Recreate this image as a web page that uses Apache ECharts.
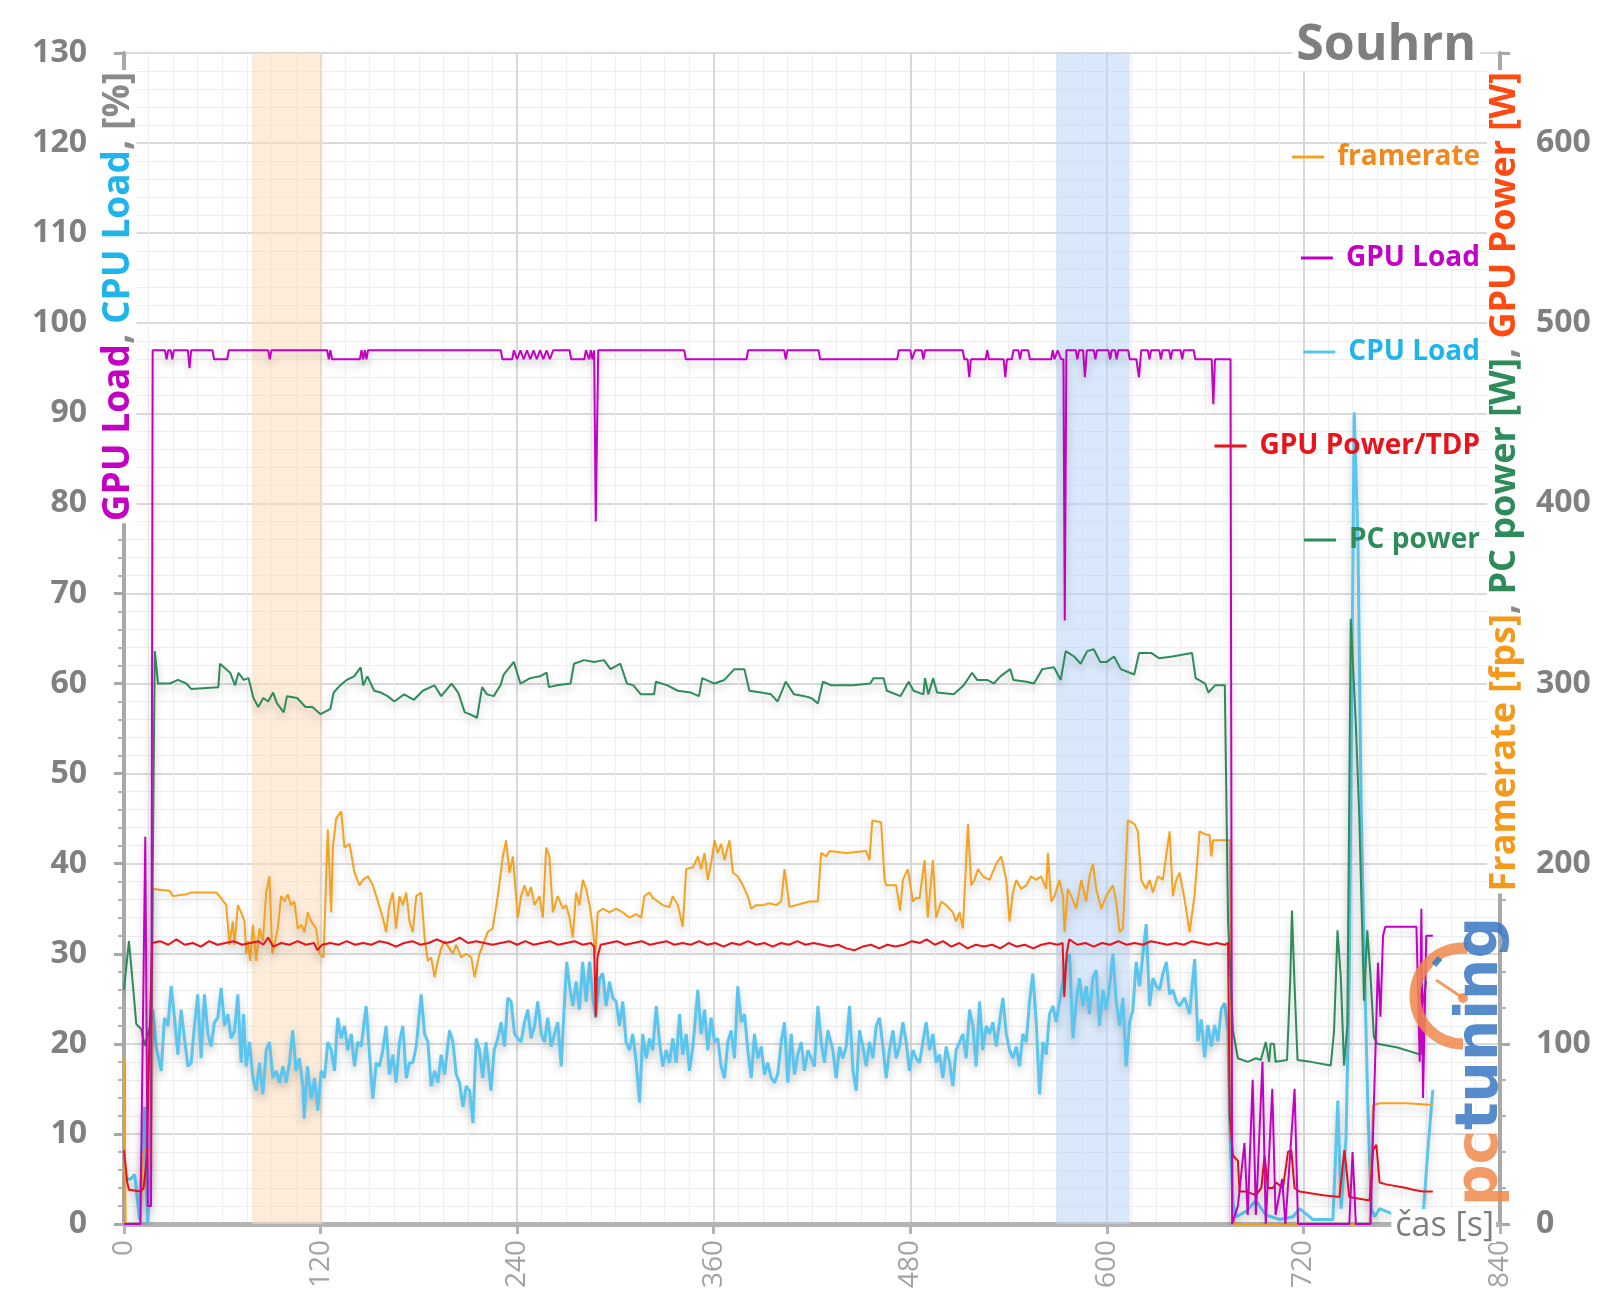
<!DOCTYPE html>
<html>
<head>
<meta charset="utf-8">
<script src="https://cdn.jsdelivr.net/npm/echarts@6/dist/echarts.min.js"></script>
<style>
html,body{margin:0;padding:0;background:#fff;}
#c{width:1600px;height:1313px;}
</style>
</head>
<body>
<div id="c"></div>
<script>
// ---------- DATA (time [s], value) ----------
const xTickStep = 120;
const bandOrange = [78, 121];
const bandBlue = [569, 614];

// CPU Load [%]
const cpuLoad = [[0,5],[4,5],[6.5,5.5],[9.5,0.5],[11,8],[12.5,13],[14.5,0],[15.6,4],[17.6,23.8],[19.6,19.7],[22.7,17],[24.7,22.9],[26.8,22],[28.8,26.4],[30.8,22.9],[32.9,18.8],[34.9,23.8],[36.9,20.6],[39,17.5],[41,17.9],[43,22],[45,25.5],[47.1,18.4],[49.1,25.5],[51.2,21.1],[53.2,19.7],[55.2,22.4],[57.3,22.9],[59.3,26.2],[61.4,22],[63.4,23.3],[65.4,20.6],[67.5,21.5],[69.5,25.5],[71.5,17.9],[73,23.3],[74.6,17.5],[76.6,20.2],[78.7,16.2],[80.7,14.8],[82.7,17.9],[84.8,14.4],[86.8,19.3],[88.8,20.2],[90.9,16.2],[92.9,17],[94.9,15.7],[97,17.5],[99,15.7],[101,17.9],[103,21.5],[105,17],[107,18.4],[109.2,15.3],[110,11.7],[112,17.5],[114.3,13.9],[116.3,16.2],[118.3,12.6],[120.4,17],[122.4,16.2],[124.4,20.2],[126.5,19.3],[128.5,17],[130.5,22.9],[132.6,20.6],[134.6,22],[136.6,19.3],[138.7,21.1],[140.7,17.5],[142.7,20.2],[144.8,19.7],[147.8,24.2],[149.9,18.8],[151.9,13.9],[154,17.9],[156,17.5],[158,19.3],[160,22],[162,16.6],[164.1,18.8],[166.1,15.7],[168.2,20.2],[170.2,22],[172.3,16.2],[174.3,17.9],[176.3,17.9],[178.4,19.7],[181.4,25.5],[183.5,21.1],[185.5,20.2],[187.5,15.3],[189.6,17],[191.6,15.7],[193.6,18.8],[195.7,16.6],[198.7,21.5],[200.8,20.2],[202.8,16.6],[204.8,15.7],[206.9,13],[208.9,15.3],[211,14.8],[213,11.2],[215,20.6],[217,19.3],[219,16.2],[221,20.2],[224,14.8],[226,19.3],[228.2,20.6],[230.2,22.4],[232.3,19.7],[234.3,25.1],[236.3,24.7],[238.4,21.1],[240.4,20.6],[242.4,20.2],[244.5,22.4],[246.5,23.8],[248.5,20.6],[250.6,22],[252.6,24.7],[254.7,21.1],[256.7,20.2],[258.7,22.9],[260.8,19.7],[262.8,21.1],[264.8,22.4],[266.9,17.5],[268.9,24.7],[270.3,29.1],[272,26.4],[274,24.2],[276,26.9],[278,23.8],[280,29.1],[282.1,24.7],[284.2,29.1],[286.2,25.1],[288,22.9],[290.3,27.3],[292.3,27.8],[294.3,24.2],[296.4,26.9],[298.4,25.1],[300.4,24.7],[302.5,22],[304.5,24.7],[306.5,20.2],[308.6,19.3],[310.6,21.1],[312.7,17.9],[314.7,13.5],[316.7,21.1],[318.8,18.4],[320.8,20.6],[322.8,19.3],[324.9,24.2],[326.9,20.2],[328.9,17.5],[331,19.3],[333,17.9],[335,20.6],[337.1,17.9],[339.1,23.3],[341.1,18.8],[343.2,21.1],[345.2,17],[347.3,19.7],[350.3,26],[352.3,21.1],[354.4,23.8],[356.4,19.3],[358.4,22.9],[360.5,20.2],[362.5,20.6],[364.5,17.5],[366.6,16.2],[368.6,20.2],[370.6,21.5],[372.7,18.4],[374.7,26.4],[376.8,22.4],[378.8,23.3],[380.8,19.3],[382.9,16.2],[384.9,21.1],[386.9,18.4],[389,19.7],[391,16.6],[393,17.9],[395.1,16.2],[397.1,15.7],[399.1,16.6],[401.2,20.2],[403.2,22.4],[405.2,15.7],[407.3,21.1],[409.3,16.6],[411.3,18.8],[413.4,20.2],[415.4,17],[417.5,19.3],[419.5,18.4],[421.5,17.5],[423.6,24.2],[425.6,20.2],[427.6,17.9],[429.7,21.5],[432.7,19.3],[434.8,16.2],[436.8,19.7],[438.8,18.4],[440.9,19.7],[442.9,24.2],[445,17],[447,14.8],[449,21.5],[451.1,19.7],[453.1,17.5],[455.1,20.2],[457.2,18.4],[459.2,22],[461.2,22.9],[463.3,19.7],[465.3,16.2],[467.3,19.3],[469.4,21.5],[471.4,18.4],[473.4,19.7],[475.5,22.4],[477.5,20.2],[479.5,17],[481.6,19.3],[483.6,18.4],[485.7,17.9],[487.7,20.2],[489.7,22.4],[491.8,19.3],[493.8,21.1],[495.8,17.9],[497.9,18.8],[499.9,16.2],[501.9,19.7],[504,17.9],[506,15.3],[508,19.3],[510.1,20.2],[512.1,21.1],[514.1,18.4],[516.2,23.8],[518.2,22],[520.2,17.5],[522.3,24.7],[524.3,19.3],[526.4,22],[528.4,21.1],[530.4,22.4],[532.5,19.7],[534.5,22.4],[536.5,25.1],[538.6,21.1],[540.6,19.3],[542.6,18.4],[544.7,19.7],[546.7,17.5],[548.7,21.1],[550.8,20.2],[552.8,24.7],[554.8,27.8],[556.9,22.4],[558.9,14.4],[561,20.2],[563,18.8],[565,23.3],[567.1,24.2],[569.1,22.4],[571.1,24.7],[573.2,26.9],[575.2,29.1],[577.2,30],[579.3,20.6],[581.3,24.7],[583.3,27.3],[585.4,24.2],[587.4,26.4],[589.4,23.3],[591.5,27.3],[593.5,28.2],[595.5,22],[597.6,26],[599.6,23.8],[601.7,26.4],[603.7,30],[605.7,24.7],[607.8,22],[609.8,25.1],[611.8,17.5],[613.9,22.4],[615.9,23.8],[617.9,29.1],[620,26.4],[622,30],[624,33.3],[626.1,24.2],[628.1,27.3],[630.2,26.4],[632.2,26],[634.2,27.8],[636.3,29.1],[638.3,25.5],[640.3,26],[642.4,24.7],[644.4,24.2],[647.5,25.1],[650.5,23.3],[653.6,29.4],[655.6,20.3],[657.6,22.7],[659.7,18.5],[661.7,22.1],[663.8,19.7],[665.8,22.1],[667.8,20.3],[669.9,23.9],[671.9,24.5],[673.9,21.5],[675,10.7],[677,2.3],[679,0.8],[685,1.4],[691,2.6],[697,1],[705.5,0.5],[713.6,0.8],[717.7,1.7],[725.8,0.5],[738,0.5],[741,13.7],[743,1.7],[746,9.5],[748,27.5],[751,90.1],[753.3,75.7],[755.3,45.6],[757.4,27.5],[759.4,12.5],[761.4,1.7],[763.5,0.8],[766.5,1.7],[778.7,0.8],[793,0.8],[796,8.3],[799,14.9]];

// GPU Load [%]
const gpuLoad = [[0,0],[10,0],[13,43],[14.5,2],[16.5,2],[17.5,97],[25,97],[26,96],[27,97],[28.5,97],[29.5,96],[30.5,97],[39,97],[40,95],[41,97],[54,97],[55,96],[63,96],[64,97],[88,97],[89,96],[90,97],[124,97],[125,96],[126,97],[127,96],[144,96],[145,97],[146,96],[147,97],[148,96],[149,97],[230,97],[231,96],[237,96],[238,97],[240,96],[242,97],[244,96],[246,97],[248,96],[250,97],[252,96],[254,97],[256,96],[258,97],[260,96],[262,97],[272,97],[273,96],[281,96],[282,97],[284,96],[285,97],[286,96],[287,97],[288,78],[289.5,97],[342,97],[343,96],[380,96],[381,97],[403,97],[404,96],[405,97],[424,97],[425,96],[472,96],[473,97],[480,97],[481,96],[483,97],[487,97],[488,96],[489,97],[512,97],[513,96],[515,96],[516,94],[517,96],[526,96],[527,97],[528,96],[537,96],[538,94],[539,96],[542,96],[543,97],[546,97],[547,96],[548,97],[552,97],[553,96],[566,96],[567,97],[568,96],[570,97],[572,96],[573.5,96],[574.3,67],[575.3,97],[581,97],[582,96],[583,97],[585.5,97],[586.6,94],[587.8,97],[592,97],[593,96],[594,97],[601,97],[602,96],[603,97],[605,97],[606,96],[607,97],[613,97],[614,96],[618,96],[619.6,94],[621,97],[625,97],[626,96],[627,97],[632,97],[633,96],[634,97],[638,97],[639,96],[640,97],[645,97],[646,96],[647,97],[653,97],[654,96],[664,96],[665,91],[666,96],[675.5,96],[676.5,0],[680,2],[684,9],[686,1],[689,16],[691,1],[695,18],[697,0],[701,15],[703,1],[707,5],[709,0],[714.6,15],[716.7,0],[748,0],[750,8],[752,0],[761,0],[762.5,10],[765.5,29],[767,23],[768.6,32],[770,33],[789,33],[791,18],[792,35],[793,14],[795,32],[799,32]];

// GPU Power [W]
const gpuPower = [[0,41],[2,23],[3,19],[10,18],[12,20],[14,38],[15.5,101],[17.2,156],[22,157],[27,155],[32,158],[37,155],[42,156],[47,154],[52,157],[57,155],[62,156],[67,157],[72,155],[77,156],[82,157],[85,155],[88,159],[91,154],[96,156],[101,155],[106,157],[111,155],[116,156],[118,152],[121,155],[126,156],[131,155],[136,157],[141,155],[146,156],[151,155],[156,157],[161,156],[166,154],[171,156],[176,157],[181,155],[186,156],[191,158],[196,156],[201,157],[205,159],[210,156],[215,157],[220,156],[225,155],[230,156],[235,157],[240,155],[245,157],[250,155],[255,156],[260,157],[265,155],[270,156],[275,157],[280,155],[285,156],[287,154],[288,115],[289,148],[291,155],[296,156],[301,157],[306,155],[311,156],[316,157],[321,155],[326,156],[331,157],[336,155],[341,156],[346,155],[351,157],[356,155],[361,156],[366,154],[371,156],[376,155],[381,157],[386,155],[391,156],[396,154],[401,156],[406,155],[411,157],[416,155],[421,156],[426,155],[431,154],[436,155],[441,153],[446,152],[451,154],[456,155],[461,153],[466,155],[471,154],[476,155],[481,157],[486,156],[490,158],[495,155],[500,157],[505,154],[510,156],[515,153],[520,155],[525,154],[530,155],[535,153],[540,156],[545,154],[550,155],[555,153],[560,155],[565,156],[570,155],[573,156],[574,126],[575.5,150],[577,158],[582,155],[587,156],[592,154],[597,156],[602,155],[607,157],[612,155],[617,156],[622,155],[627,157],[632,156],[637,155],[642,156],[647,155],[652,157],[657,156],[662,155],[667,156],[672,155],[674,156],[675,60],[677,38],[680,35],[681,18],[685,18],[691,16],[694.3,20],[696.3,38],[698.3,20],[701.4,20],[703.4,23],[707.5,20],[710.6,40],[712.6,41],[714.6,20],[717.7,18],[732,16],[742,15],[745,41],[748,15],[760.4,13],[762.5,41],[764.5,44],[766.5,23],[770.6,22],[782.8,20],[786.9,19],[793,18],[799,18]];

// PC power [W]
const pcPower = [[0,130],[3,157],[5.5,132],[7.5,111],[10.6,108],[12.6,99],[16.7,112],[18.8,318],[20.8,300],[28,300],[33,302],[38,300],[41,297],[57.6,298],[58.6,311],[64.8,306],[67.8,299],[69.9,306],[73,302],[76,303],[79,292],[82,287],[85,292],[88,290],[91,295],[93.4,289],[97.5,284],[99.5,293],[105.7,292],[110.8,287],[115,287],[120,283],[126,286],[128,295],[132,299],[136,302],[140.5,304],[144.5,309],[146,299],[148.6,304],[152.7,296],[156.8,295],[160.9,293],[165,290],[171,294],[177,291],[182.4,296],[189.5,299],[193.6,293],[200,300],[204,295],[208,284],[211,283],[215.5,281],[218.6,298],[221.6,294],[225.7,293],[229.8,299],[231.8,305],[238,312],[242,300],[248,303],[254,304],[258,306],[259.4,298],[264.5,299],[272.6,300],[274.7,311],[280.8,313],[287,312],[293,313],[297,308],[303,311],[307,300],[311,299],[315.5,294],[323.6,294],[324.7,301],[331.8,299],[338,296],[346,295],[351,293],[353,303],[360.4,300],[366.5,302],[372.6,308],[378.7,308],[381.8,296],[389,295],[395,294],[399,290],[404,301],[409,294],[415.4,293],[419.5,292],[423.6,289],[426.7,301],[431.8,299],[445,299],[455.5,300],[457.6,303],[463.7,303],[465.7,296],[474,293],[479,301],[482,296],[488,294],[489,303],[491,294],[494,303],[496.3,295],[506.5,294],[512.6,299],[517.7,306],[520.8,302],[527,302],[531,300],[535,304],[541,308],[543,302],[551,301],[555.5,300],[560.6,308],[567.7,309],[571.8,302],[574.9,318],[580,315],[584,311],[588,318],[592,319],[596,312],[600,312],[604.4,315],[608.5,308],[616.7,305],[619.7,317],[627,317],[632,314],[640,315],[652,317],[654.2,303],[660,300],[662,295],[666,299],[672,299],[674,168],[677,107],[680,92],[686,90],[691,92],[694,91],[697,101],[699,90],[700,100],[702,100],[703,90],[710,91],[712,137],[713,174],[714.4,137],[716.4,91],[724.5,90],[736.7,88],[738.7,107],[740.8,163],[742.8,137],[744.8,88],[746.8,110],[748.9,336],[752,277],[754,229],[757,124],[759,163],[761,137],[763,104],[765,100],[777.4,98],[791.6,94],[792.6,121],[795,135]];

// framerate [fps]
const framerate = [[0,92],[1,0],[10,0],[11.5,40],[15,42],[16.5,20],[17.6,186],[18.6,186],[27.8,185],[29.8,182],[38,183],[41,184],[56.3,184],[58.3,182],[62.4,177],[64.4,155],[66.4,168],[67.5,155],[69.5,177],[71.5,173],[73.6,168],[74.6,150],[75.6,157],[77,146],[78.7,166],[80.7,146],[82.7,164],[84.8,157],[86.8,184],[88.8,193],[90.5,150],[91.9,155],[93.9,164],[95.9,182],[98,179],[100,183],[102,177],[104,179],[106.1,164],[108.2,166],[110.2,162],[112.2,173],[114.3,168],[117.3,164],[119.4,150],[121.8,148],[124.4,219],[126.5,173],[127.5,209],[129.5,225],[132.6,229],[134.6,209],[137.7,211],[140.7,195],[143.8,188],[145.8,191],[148.9,193],[151.9,188],[155,179],[158,170],[160,162],[162,177],[164.1,184],[166.1,164],[168.2,182],[170.2,177],[172.3,184],[174.3,168],[176.3,162],[178.4,182],[181.4,184],[183.5,159],[185.5,146],[187.5,148],[189.6,137],[191.6,146],[193.6,153],[195.7,157],[198.7,153],[200.8,150],[202.8,155],[205.8,148],[208.9,150],[212,148],[214,137],[217,150],[220,157],[222,162],[225,164],[228.2,182],[231.3,204],[233.3,213],[235.3,195],[237.4,204],[238.4,193],[240.4,170],[242.4,182],[244.5,188],[246.5,182],[248.5,187],[250.6,177],[253.6,182],[255.7,170],[257.7,209],[259.7,204],[261.8,173],[264.8,182],[267.9,175],[269.9,177],[272,170],[274,159],[276,184],[278,177],[280.1,191],[282.1,186],[284.2,177],[286.2,164],[287.8,150],[289.2,173],[292.3,175],[296.4,173],[300.4,175],[304.5,173],[308.6,170],[312.7,172],[315.7,170],[317.7,182],[320.8,184],[322.8,181],[325.9,179],[328.9,177],[333,176],[335,182],[338.1,177],[341.1,165],[343.2,197],[347.3,198],[350.3,204],[352.3,197],[354.4,206],[356.4,191],[358.4,200],[360.5,213],[362.5,206],[364.5,211],[366.6,202],[369.6,213],[371.7,195],[374.7,193],[377.8,188],[380.8,182],[382.9,175],[385.9,177],[390,177],[394,178],[398.1,177],[401.2,179],[403.2,197],[406.3,176],[410.3,177],[414.4,178],[418.5,179],[423.6,179],[425.6,206],[428.7,204],[430.7,207],[440.9,206],[453.1,207],[455.1,202],[456.8,224],[462.2,223],[464.3,191],[465.3,188],[471.4,188],[473.8,174],[475.5,191],[478.5,197],[481.6,179],[483.6,181],[485.7,181],[488.7,202],[490.7,170],[493.8,202],[495.8,170],[498.9,179],[501.9,177],[506,173],[508,168],[510.1,173],[512.1,164],[515.2,222],[517.2,188],[519.2,191],[521.3,197],[524.3,193],[528.4,191],[532.5,200],[535.5,204],[538.6,191],[540.6,168],[542.6,184],[544.7,191],[547.7,186],[550.8,188],[553.8,193],[556.9,191],[559.9,193],[563,186],[564,206],[566,179],[568.1,182],[571.1,191],[573.2,182],[574.2,162],[576.2,186],[578.3,182],[581.3,175],[584.4,191],[587.4,179],[589.4,193],[591.5,200],[593.5,186],[596.6,175],[599.6,182],[603.7,188],[605.7,179],[607.8,162],[609.8,164],[612.8,224],[616.9,222],[618.9,218],[621,191],[624,186],[626.1,191],[628.1,184],[631.2,193],[634.2,191],[638.3,218],[640.3,182],[642.4,191],[644.4,195],[647.5,180],[650.5,162],[653.6,183],[656.6,218],[660.7,216],[662.7,216],[663.8,204],[664.8,213],[675,213],[677,4],[678,0],[760.4,0],[762.5,66],[766.5,67],[782.8,67],[799,66]];

// ---------- CHART ----------
const FONT = '"Open Sans", "Noto Sans", sans-serif';
const C = {
  fps: '#f5a31e', fpsText: '#f08a1e',
  gpu: '#c400c4', cpu: '#5ac6f0', cpuText: '#1fb4ea',
  pwr: '#e8131b', pc: '#2e8b5a', axisGray: '#808080'
};
const shadow = {shadowColor: 'rgba(0,0,0,0.22)', shadowBlur: 8, shadowOffsetY: 5};

const chart = echarts.init(document.getElementById('c'), null, {renderer: 'canvas'});

function mkLegend(name, top, color) {
  return {
    data: [name], right: 120, top: top, padding: 0, selectedMode: false,
    icon: 'rect', itemWidth: 32, itemHeight: 3,
    textStyle: {color: color, fontSize: 28, fontWeight: 'bold', fontFamily: FONT, lineHeight: 32, padding: [0, 0, 0, 8]}
  };
}

const option = {
  animation: false,
  backgroundColor: '#fff',
  grid: {left: 124, right: 100, top: 53, bottom: 89, containLabel: false, outerBoundsMode: 'none'},
  legend: [
    mkLegend('framerate', 141, C.fpsText),
    mkLegend('GPU Load', 242, C.gpu),
    mkLegend('CPU Load', 336, C.cpuText),
    mkLegend('GPU Power/TDP', 430, C.pwr),
    mkLegend('PC power', 524, C.pc)
  ],
  xAxis: {
    type: 'value', min: 0, max: 840, interval: xTickStep,
    axisLine: {show: true, onZero: false, lineStyle: {color: '#b4b4b4', width: 5}},
    axisTick: {show: true, length: 10, lineStyle: {color: '#b4b4b4', width: 3}},
    minorTick: {show: false, splitNumber: 8},
    splitLine: {show: true, lineStyle: {color: '#d6d8de', width: 2}},
    minorSplitLine: {show: true, lineStyle: {color: '#efefef', width: 1}},
    axisLabel: {rotate: 90, margin: 16, color: '#a3a3a3', fontSize: 28, fontFamily: FONT}
  },
  yAxis: [{
    type: 'value', min: 0, max: 130, interval: 10, position: 'left',
    axisLine: {show: true, lineStyle: {color: '#a8a8a8', width: 4}},
    axisTick: {show: true, length: 10, lineStyle: {color: '#a8a8a8', width: 3}},
    minorTick: {show: true, splitNumber: 5, length: 6, lineStyle: {color: '#b0b0b0', width: 2}},
    splitLine: {show: true, lineStyle: {color: '#dadada', width: 2}},
    minorSplitLine: {show: true, lineStyle: {color: '#eeeeee', width: 1}},
    axisLabel: {margin: 37, color: C.axisGray, fontSize: 32, fontWeight: 'bold', fontFamily: FONT}
  }, {
    type: 'value', min: 0, max: 650, interval: 100, position: 'right',
    axisLine: {show: true, lineStyle: {color: '#a8a8a8', width: 4}},
    axisTick: {show: true, length: 10, lineStyle: {color: '#a8a8a8', width: 3}},
    minorTick: {show: true, splitNumber: 5, length: 6, lineStyle: {color: '#b0b0b0', width: 2}},
    splitLine: {show: false}, minorSplitLine: {show: false},
    axisLabel: {margin: 36, color: C.axisGray, fontSize: 32, fontWeight: 'bold', fontFamily: FONT, showMaxLabel: false}
  }],
  series: [
    {
      name: 'bands', type: 'line', data: [], silent: true, z: 1,
      markArea: {
        silent: true,
        data: [
          [{xAxis: bandOrange[0], itemStyle: {color: 'rgba(252,220,188,0.55)'}}, {xAxis: bandOrange[1]}],
          [{xAxis: bandBlue[0], itemStyle: {color: 'rgba(186,214,246,0.55)'}}, {xAxis: bandBlue[1]}]
        ]
      }
    },
    {name: 'CPU Load', type: 'line', yAxisIndex: 0, data: cpuLoad, showSymbol: false, symbol: 'none',
     itemStyle: {color: C.cpu}, lineStyle: Object.assign({color: C.cpu, width: 3}, shadow)},
    {name: 'framerate', type: 'line', yAxisIndex: 1, data: framerate, showSymbol: false, symbol: 'none',
     itemStyle: {color: C.fps}, lineStyle: Object.assign({color: C.fps, width: 2}, shadow)},
    {name: 'PC power', type: 'line', yAxisIndex: 1, data: pcPower, showSymbol: false, symbol: 'none',
     itemStyle: {color: C.pc}, lineStyle: Object.assign({color: C.pc, width: 2}, shadow)},
    {name: 'GPU Power/TDP', type: 'line', yAxisIndex: 1, data: gpuPower, showSymbol: false, symbol: 'none',
     itemStyle: {color: C.pwr}, lineStyle: Object.assign({color: C.pwr, width: 2}, shadow)},
    {name: 'GPU Load', type: 'line', yAxisIndex: 0, data: gpuLoad, showSymbol: false, symbol: 'none',
     itemStyle: {color: C.gpu}, lineStyle: Object.assign({color: C.gpu, width: 2}, shadow)}
  ],
  graphic: [
    {type: 'text', z: 50, x: 1480, y: 46, style: {
      text: 'Souhrn', fill: '#7f7f7f', fontSize: 50, fontWeight: 'bold', fontFamily: FONT,
      align: 'right', verticalAlign: 'middle', textAlign: 'right', textVerticalAlign: 'middle',
      backgroundColor: '#fff', padding: [0, 4, 0, 4]}},
    {type: 'text', z: 50, x: 118, y: 70, rotation: Math.PI / 2, style: {
      text: '{g|GPU Load}{s|, }{c|CPU Load}{s|, [%]}',
      align: 'right', verticalAlign: 'middle', textAlign: 'right', textVerticalAlign: 'middle',
      backgroundColor: '#fff', padding: [0, 2, 0, 2],
      rich: {
        g: {fill: C.gpu, fontSize: 37, fontWeight: 'bold', fontFamily: FONT},
        c: {fill: C.cpuText, fontSize: 37, fontWeight: 'bold', fontFamily: FONT},
        s: {fill: '#8a8a8a', fontSize: 37, fontWeight: 'bold', fontFamily: FONT}
      }}},
    {type: 'text', z: 50, x: 1505, y: 70, rotation: Math.PI / 2, style: {
      text: '{f|Framerate [fps]}{s|, }{p|PC power [W]}{s|, }{r|GPU Power [W]}',
      align: 'right', verticalAlign: 'middle', textAlign: 'right', textVerticalAlign: 'middle',
      backgroundColor: '#fff', padding: [0, 2, 0, 2],
      rich: {
        f: {fill: '#f39a1a', fontSize: 36, fontWeight: 'bold', fontFamily: FONT},
        p: {fill: C.pc, fontSize: 36, fontWeight: 'bold', fontFamily: FONT},
        r: {fill: '#ff4a12', fontSize: 36, fontWeight: 'bold', fontFamily: FONT},
        s: {fill: '#8a8a8a', fontSize: 36, fontWeight: 'bold', fontFamily: FONT}
      }}},
    {type: 'text', z: 50, x: 1496, y: 1226, style: {
      text: 'čas [s]', fill: '#7f7f7f', fontSize: 34, fontFamily: FONT,
      align: 'right', verticalAlign: 'middle', textAlign: 'right', textVerticalAlign: 'middle',
      backgroundColor: '#fff', padding: [0, 2, 0, 4]}},
    {type: 'arc', z: 60, shape: {cx: 1463, cy: 996, r: 48, startAngle: Math.PI * 0.5, endAngle: Math.PI * 1.53, clockwise: true},
     style: {stroke: '#f08a4b', lineWidth: 11, fill: 'none', opacity: 0.85}},
    {type: 'line', z: 60, shape: {x1: 1463, y1: 998, x2: 1436, y2: 980}, style: {stroke: '#f08a4b', lineWidth: 3, opacity: 0.85}},
    {type: 'circle', z: 60, shape: {cx: 1463, cy: 998, r: 5}, style: {fill: '#f08a4b', opacity: 0.85}},
    {type: 'line', z: 60, shape: {x1: 1434, y1: 965, x2: 1440, y2: 958}, style: {stroke: '#3a78c3', lineWidth: 6, opacity: 0.85}},
    {type: 'text', z: 60, x: 1482, y: 1206, rotation: Math.PI / 2, style: {
      text: '{o|pc}{b|tuning}',
      align: 'left', verticalAlign: 'middle', textAlign: 'left', textVerticalAlign: 'middle', opacity: 0.85,
      rich: {
        o: {fill: '#f08a4b', fontSize: 58, fontWeight: 'bold', fontFamily: '"DejaVu Sans", sans-serif'},
        b: {fill: '#3a78c3', fontSize: 58, fontWeight: 'bold', fontFamily: '"DejaVu Sans", sans-serif'}
      }}}
  ]
};
chart.setOption(option);
</script>
</body>
</html>
